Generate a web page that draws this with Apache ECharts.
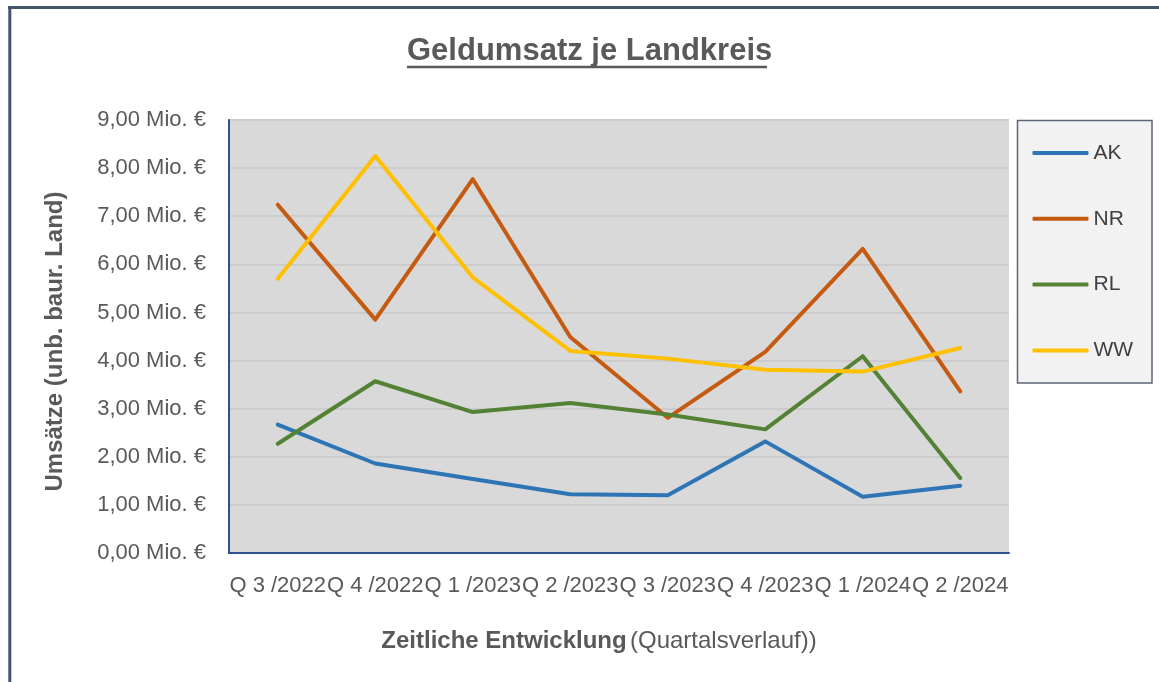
<!DOCTYPE html>
<html>
<head>
<meta charset="utf-8">
<script src="https://cdn.jsdelivr.net/npm/echarts@6/dist/echarts.min.js"></script>
<style>
html,body{margin:0;padding:0;background:#fff;}
#chart{width:1159px;height:682px;}
</style>
</head>
<body>
<div id="chart"></div>
<script>
const categories = ['Q 3 /2022','Q 4 /2022','Q 1 /2023','Q 2 /2023','Q 3 /2023','Q 4 /2023','Q 1 /2024','Q 2 /2024'];
const AK = [2.67, 1.86, 1.54, 1.22, 1.20, 2.32, 1.17, 1.40];
const NR = [7.24, 4.85, 7.77, 4.49, 2.81, 4.18, 6.32, 3.36];
const RL = [2.27, 3.57, 2.93, 3.12, 2.88, 2.57, 4.09, 1.56];
const WW = [5.70, 8.25, 5.73, 4.20, 4.04, 3.81, 3.77, 4.26];
const seriesNames = ['AK','NR','RL','WW'];
const seriesColors = ['#2E75B6','#C55A11','#548235','#FFC000'];
const yTicks = [0,1,2,3,4,5,6,7,8,9];

const FONT = "'Liberation Sans',Arial,sans-serif";
const chart = echarts.init(document.getElementById('chart'), null, {renderer:'canvas'});
const dataSets = [AK, NR, RL, WW];

chart.setOption({
  animation: false,
  backgroundColor: '#ffffff',
  title: {
    text: 'Geldumsatz je Landkreis',
    left: 407, top: 34,
    padding: 0,
    textStyle: {fontFamily: FONT, fontWeight: 'bold', fontSize: 31, color: '#595959', lineHeight: 34}
  },
  graphic: [
    {type:'line', shape:{x1:8, y1:7.5, x2:1159, y2:7.5}, style:{stroke:'#44546A', lineWidth:3}, silent:true},
    {type:'line', shape:{x1:9.8, y1:6, x2:9.8, y2:682}, style:{stroke:'#44546A', lineWidth:3}, silent:true},
    {type:'line', shape:{x1:407, y1:67, x2:767, y2:67}, style:{stroke:'#595959', lineWidth:2.5}, silent:true},
    {type:'rect', shape:{x:1017.5, y:120.5, width:134.5, height:262.5}, style:{fill:'#F2F2F2', stroke:'#5B6678', lineWidth:1.5}, z:0, silent:true}
  ],
  legend: {
    orient: 'vertical',
    left: 1017, top: 121,
    padding: [21, 10, 10, 15.5],
    itemGap: 43.8,
    itemWidth: 56,
    itemHeight: 4,
    icon: 'roundRect',
    z: 10,
    textStyle: {fontFamily: FONT, fontSize: 21, color: '#404040', lineHeight: 22},
    data: seriesNames
  },
  grid: {
    left: 229, right: 150, top: 120, bottom: 129,
    show: true, backgroundColor: '#D9D9D9', borderWidth: 0
  },
  xAxis: {
    type: 'category',
    data: categories,
    boundaryGap: true,
    axisLine: {show: true, lineStyle: {color: '#2F528F', width: 2}},
    axisTick: {show: false},
    axisLabel: {interval: 0, margin: 22, fontFamily: FONT, fontSize: 22, color: '#595959', lineHeight: 22},
    name: '{b|Zeitliche Entwicklung} {n|(Quartalsverlauf))}',
    nameLocation: 'middle',
    nameGap: 76,
    nameTextStyle: {
      padding: [0, 40, 0, 0],
      rich: {
        b: {fontFamily: FONT, fontWeight: 'bold', fontSize: 24, color: '#595959'},
        n: {fontFamily: FONT, fontWeight: 'normal', fontSize: 24, color: '#595959'}
      }
    }
  },
  yAxis: {
    type: 'value',
    min: 0, max: 9, interval: 1,
    axisLine: {show: true, lineStyle: {color: '#2F528F', width: 2}},
    axisTick: {show: false},
    splitLine: {show: true, lineStyle: {color: '#CCCCCC', width: 2}},
    axisLabel: {
      margin: 23, fontFamily: FONT, fontSize: 22, color: '#595959',
      formatter: v => yTicks.includes(v) ? v.toFixed(2).replace('.', ',') + ' Mio. €' : ''
    },
    name: 'Umsätze (unb. baur. Land)',
    nameLocation: 'middle',
    nameRotate: 90,
    nameGap: 162,
    nameTextStyle: {fontFamily: FONT, fontWeight: 'bold', fontSize: 24, color: '#595959', padding: [0, 10, 0, 0]}
  },
  series: seriesNames.map((n, i) => ({
    name: n,
    type: 'line',
    data: dataSets[i],
    symbol: 'none',
    smooth: false,
    color: seriesColors[i],
    lineStyle: {width: 4, color: seriesColors[i], cap: 'round', join: 'round'},
    emphasis: {disabled: true}
  }))
});
</script>
</body>
</html>
